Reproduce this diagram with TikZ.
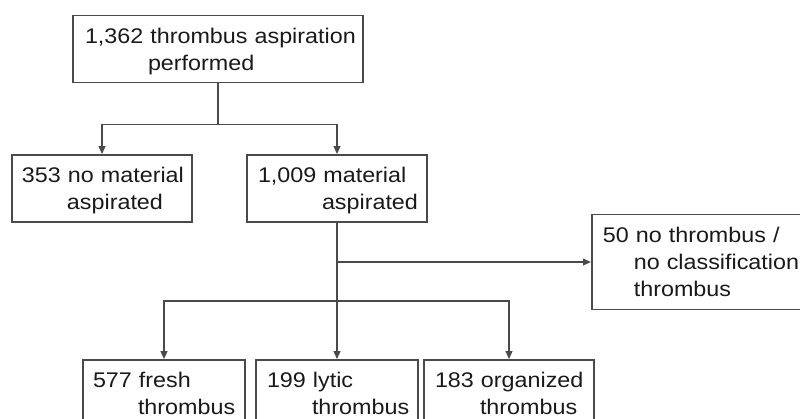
\documentclass[tikz,border=0pt]{standalone}
\usepackage{fontspec}
\setmainfont{Liberation Sans}[FakeStretch=1.1]
\usepackage{xcolor}
\usepackage{tikz}
\usetikzlibrary{positioning}
\usetikzlibrary{arrows.meta}
\definecolor{linegray}{HTML}{4A4A4A}
\newcommand\sr{\rule[-3.6pt]{0pt}{18.6pt}}

\tikzset{
flowbox/.style={draw=linegray, line width=1.25pt, rectangle, inner xsep=0pt,
  align=left, text width=#1, minimum height=50.25pt,
  font=\fontsize{15.9}{20.25}\selectfont, text=black!90},
arr/.style={draw=linegray, line width=1.25pt, -{Triangle[length=6pt,width=5pt]}},
}

\begin{document}
\begin{tikzpicture}[x=0.75pt,y=-0.75pt]
\useasboundingbox (0,0) rectangle (800,418);
\clip (0,0) rectangle (800,418);

%----------top
\node[flowbox=217.5pt] (perf) at (218,49) {\hspace*{9pt}\sr 1,362 thrombus aspiration\\\hspace*{56.25pt}performed\sr};

%----------second row
\node[flowbox=135pt] (nomat) at (102,188.5) {\hspace*{7.5pt}\sr 353 no material\\\hspace*{41.25pt}aspirated\sr};
\node[flowbox=135pt] (mat) at (337,188.5) {\hspace*{8.25pt}\sr 1,009 material\\\hspace*{56.25pt}aspirated\sr};

%----------side box
\node[flowbox=165.75pt, minimum height=71.25pt, anchor=west] (nothr) at (591,262)
  {\hspace*{8.25pt}\sr 50 no thrombus /\\\hspace*{31.5pt}no classification\\\hspace*{31.5pt}thrombus\sr};

%----------bottom row
\node[flowbox=121.5pt] (fresh) at (164,393.5) {\hspace*{7.5pt}\sr 577 fresh\\\hspace*{41.25pt}thrombus\sr};
\node[flowbox=121.5pt] (lytic) at (337,393.5) {\hspace*{8.25pt}\sr 199 lytic\\\hspace*{42pt}thrombus\sr};
\node[flowbox=127.5pt] (organ) at (509,393.5) {\hspace*{8.25pt}\sr 183 organized\\\hspace*{42pt}thrombus\sr};

%lines:
\draw[draw=linegray, line width=1.25pt] (perf.south) -- ++(0,41) coordinate (split1);
\draw[arr] (split1) -| (nomat.north);
\draw[arr] (split1) -| (mat.north);

\draw[draw=linegray, line width=1.25pt] (mat.south) -- ++(0,78) coordinate (split2);
\draw[arr] (mat.south |- nothr.west) -- (nothr.west);
\draw[arr] (split2) -| (fresh.north);
\draw[arr] (split2) -- (lytic.north);
\draw[arr] (split2) -| (organ.north);

\end{tikzpicture}
\end{document}
